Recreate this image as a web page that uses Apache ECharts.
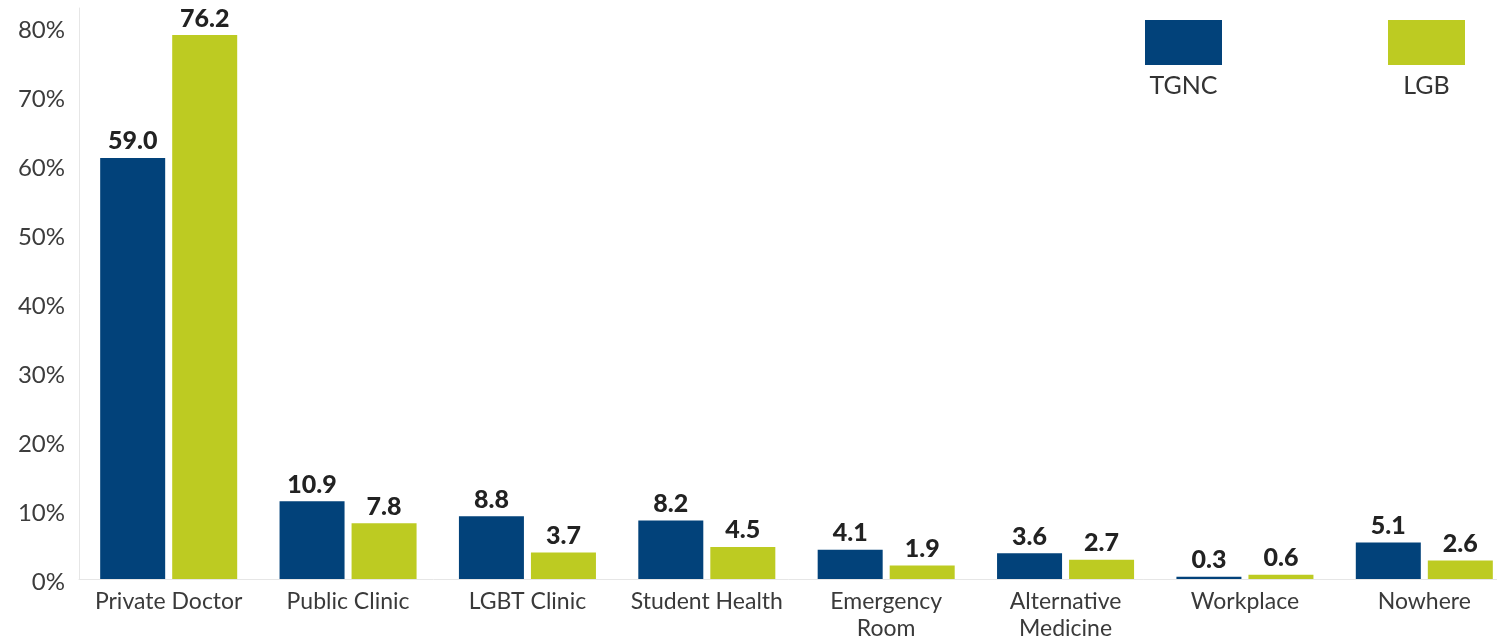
<!DOCTYPE html>
<html>
<head>
<meta charset="utf-8">
<script src="https://cdn.jsdelivr.net/npm/echarts@6/dist/echarts.min.js"></script>
<style>
html,body{margin:0;padding:0;background:#fff;}
#chart{width:1497px;height:637px;}
</style>
</head>
<body>
<div id="chart"></div>
<script>
const categories = ['Private Doctor', 'Public Clinic', 'LGBT Clinic', 'Student Health', 'Emergency\nRoom', 'Alternative\nMedicine', 'Workplace', 'Nowhere'];
const seriesNames = ['TGNC', 'LGB'];
const tgncValues = [59.0, 10.9, 8.8, 8.2, 4.1, 3.6, 0.3, 5.1];
const lgbValues = [76.2, 7.8, 3.7, 4.5, 1.9, 2.7, 0.6, 2.6];
const yTicks = { min: 0, max: 80, interval: 10 };

const BLUE = '#02427a';
const GREEN = '#bdcb22';
const FONT = 'Lato, "Open Sans", sans-serif';

const chart = echarts.init(document.getElementById('chart'), null, { renderer: 'canvas' });

const valueLabel = {
  show: true,
  position: 'top',
  distance: 4,
  formatter: p => p.value.toFixed(1),
  fontFamily: FONT,
  fontWeight: 900,
  fontSize: 25,
  color: '#222222'
};

chart.setOption({
  animation: false,
  backgroundColor: '#ffffff',
  grid: [
    { left: 79, top: 8, bottom: 58, width: 1435, containLabel: false, outerBoundsMode: 'none' },
    { left: 79, top: 30, bottom: 55, width: 10, containLabel: false, outerBoundsMode: 'none' }
  ],
  legend: {
    data: seriesNames,
    left: 1135,
    top: 15,
    itemGap: 161,
    itemWidth: 0,
    itemHeight: 0,
    selectedMode: false,
    formatter: name => name === 'TGNC' ? '{a| }\n{t|' + name + '}' : '{b| }\n{t|' + name + '}',
    textStyle: {
      rich: {
        a: { width: 77, height: 45, backgroundColor: BLUE, align: 'center' },
        b: { width: 77, height: 45, backgroundColor: GREEN, align: 'center' },
        t: { fontFamily: FONT, fontSize: 25, color: '#333333', align: 'center', lineHeight: 42, width: 77 }
      }
    }
  },
  xAxis: [
    {
      type: 'category',
      gridIndex: 0,
      data: categories,
      axisLine: { show: true, lineStyle: { color: '#e6e6e6', width: 1 } },
      axisTick: { show: false },
      axisLabel: {
        interval: 0,
        margin: 9,
        fontFamily: FONT,
        fontSize: 23,
        lineHeight: 27,
        color: '#3a3a3a'
      }
    },
    { type: 'value', gridIndex: 1, show: false }
  ],
  yAxis: [
    {
      type: 'value',
      gridIndex: 0,
      min: yTicks.min,
      max: yTicks.max,
      interval: yTicks.interval,
      axisLine: { show: true, lineStyle: { color: '#e6e6e6', width: 1 } },
      axisTick: { show: false },
      axisLabel: { show: false },
      splitLine: { show: false }
    },
    {
      type: 'value',
      gridIndex: 1,
      min: yTicks.min,
      max: yTicks.max,
      interval: yTicks.interval,
      axisLine: { show: false },
      axisTick: { show: false },
      splitLine: { show: false },
      axisLabel: {
        formatter: '{value}%',
        margin: 14,
        fontFamily: FONT,
        fontSize: 24,
        color: '#3c3c3c'
      }
    }
  ],
  series: [
    {
      name: seriesNames[0],
      type: 'bar',
      xAxisIndex: 0,
      yAxisIndex: 0,
      data: tgncValues,
      barWidth: 65,
      barGap: '10.8%',
      itemStyle: { color: BLUE },
      label: valueLabel
    },
    {
      name: seriesNames[1],
      type: 'bar',
      xAxisIndex: 0,
      yAxisIndex: 0,
      data: lgbValues,
      barWidth: 65,
      barGap: '10.8%',
      itemStyle: { color: GREEN },
      label: valueLabel
    }
  ]
});
</script>
</body>
</html>
